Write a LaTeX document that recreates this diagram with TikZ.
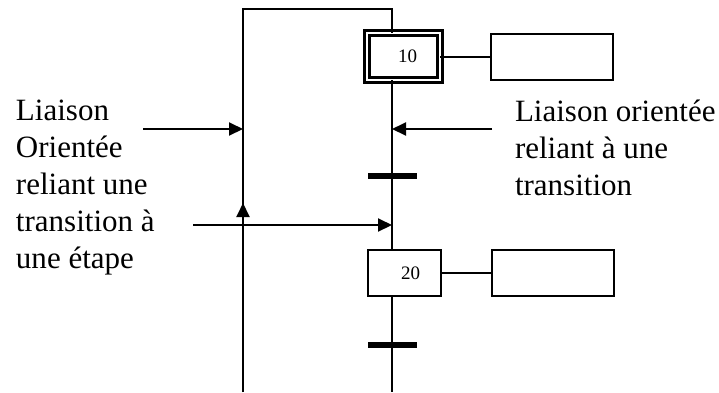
\documentclass[tikz,border=0pt]{standalone}
\usepackage{fontspec}
\setmainfont{Liberation Serif}
\usepackage{tikz}
\usetikzlibrary{arrows.meta,positioning}

\begin{document}
\begin{tikzpicture}[
  x=1pt,y=-1pt,
  line width=2pt,
  etape/.style={draw,line width=2pt,inner sep=0pt,outer sep=0pt,
                minimum width=73pt,minimum height=46pt,
                font=\fontsize{19}{22}\selectfont},
  init/.style={etape,line width=3pt,double,double distance=2pt,minimum height=47pt},
  action/.style={draw,line width=2pt,inner sep=0pt,outer sep=0pt,
                 minimum width=122pt,minimum height=46pt},
  trans/.style={fill=black,inner sep=0pt,outer sep=0pt,
                minimum width=49pt,minimum height=6pt},
  arr/.style={-{Triangle[length=14pt,width=13pt]},line width=2pt},
  note/.style={align=left,inner sep=0pt,anchor=north west,
               font=\fontsize{31}{37}\selectfont}
]
\useasboundingbox (0,0) rectangle (719,392);

\coordinate (top) at (392,9);
\coordinate (topL) at (243,9);
\coordinate (bot) at (392,392);
\coordinate (botL) at (243,392);

\node[init] (s10) at (403.5,56.5) {\hspace{8pt}10};
\node[action,right=51pt of s10] (a10) {};
\node[trans] (t1) at (392,176) {};
\node[etape] (s20) at (404.5,273) {\hspace{12pt}20};
\node[action,right=51pt of s20] (a20) {};
\node[trans] (t2) at (392,345) {};

\draw (botL) -- (topL) -- (top) -- (s10.north -| top);
\draw (s10.south -| top) -- (t1.center) -- (s20.north -| top);
\draw (s20.south -| top) -- (t2.center) -- (bot);
\draw (s10.east) -- (a10.west);
\draw (s20.east) -- (a20.west);

\node[note] (liaisonL) at (15,99) {Liaison\\Orientée\\reliant une\\transition à\\une étape};
\node[note] (liaisonR) at (514,99) {Liaison orientée\\reliant à une\\transition};

\coordinate (pL) at (143,129);
\coordinate (pR) at (492,129);
\coordinate (pT) at (193,225);
\coordinate (up) at (243,203);
\draw[arr] (pL) -- (pL -| topL);
\draw[arr] (pR) -- (pR -| top);
\draw[arr] (pT) -- (pT -| top);
\draw[arr] (botL) -- (up);
\end{tikzpicture}
\end{document}
